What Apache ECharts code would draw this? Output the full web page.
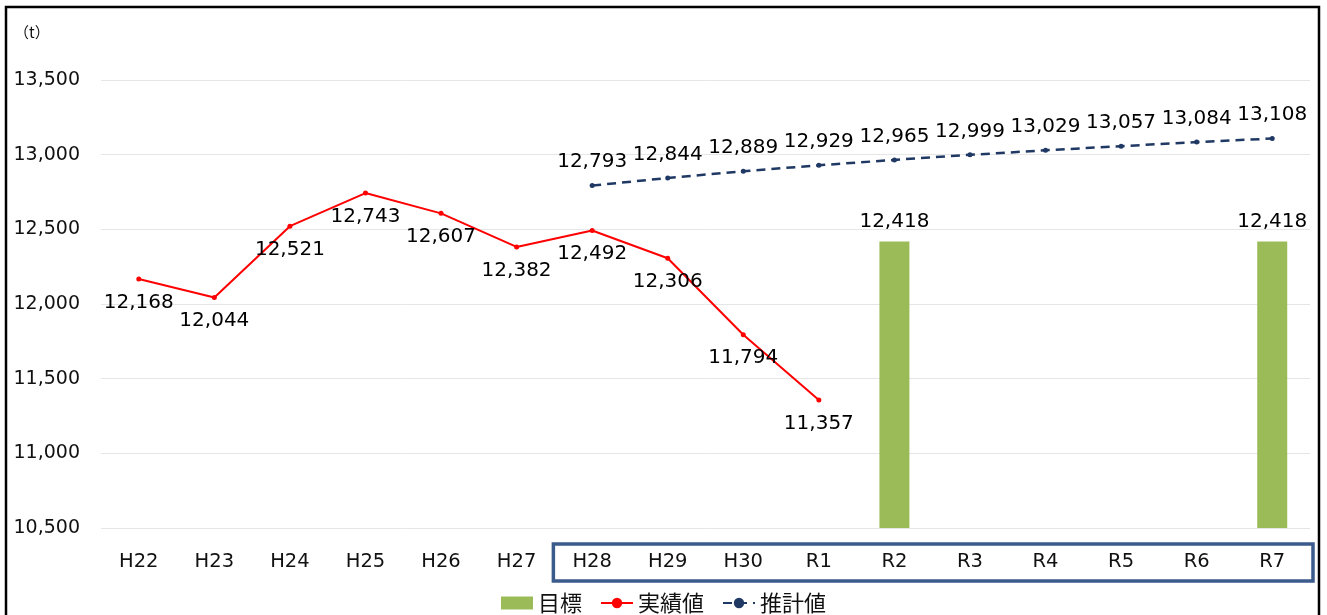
<!DOCTYPE html>
<html><head><meta charset="utf-8">
<script src="https://cdn.jsdelivr.net/npm/echarts@6/dist/echarts.min.js"></script>
<style>html,body{margin:0;padding:0;background:#fff}#c{width:1327px;height:615px}</style>
</head><body><div id="c"></div>
<script>
const categories = ['H22','H23','H24','H25','H26','H27','H28','H29','H30','R1','R2','R3','R4','R5','R6','R7'];
const targetValues = [null,null,null,null,null,null,null,null,null,null,12418,null,null,null,null,12418];
const actualValues = [12168,12044,12521,12743,12607,12382,12492,12306,11794,11357,null,null,null,null,null,null];
const estimateValues = [null,null,null,null,null,null,12793,12844,12889,12929,12965,12999,13029,13057,13084,13108];
const yTicks = {min:10500, max:13500, interval:500};
const seriesNames = ['目標','実績値','推計値'];
const unitLabel = '（t）';

const CJK = '"Noto Sans CJK JP","Noto Sans",sans-serif';
const NUM = '"DejaVu Sans","Noto Sans",sans-serif';
const fmt = v => Number(v).toLocaleString('en-US');
const chart = echarts.init(document.getElementById('c'));
chart.setOption({
  animation:false,
  backgroundColor:'#fff',
  textStyle:{fontFamily:NUM},
  grid:{left:101,right:17,top:80,bottom:87},
  legend:{
    bottom:-4, left:'center', itemGap:18, itemWidth:32, itemHeight:13,
    textStyle:{fontSize:22,color:'#111',fontFamily:CJK},
    data:[{name:seriesNames[0],icon:'rect'},seriesNames[1],seriesNames[2]]
  },
  xAxis:{
    type:'category', data:categories,
    axisLine:{show:false}, axisTick:{show:false},
    axisLabel:{fontSize:19.5,color:'#111',margin:24,fontFamily:NUM}
  },
  yAxis:{
    type:'value', min:yTicks.min, max:yTicks.max, interval:yTicks.interval,
    axisLine:{show:false}, axisTick:{show:false},
    splitLine:{lineStyle:{color:'#e6e6e6',width:1}},
    axisLabel:{fontSize:19,color:'#111',margin:21,formatter:v=>fmt(v),fontFamily:NUM}
  },
  series:[
    {name:seriesNames[0],type:'bar',data:targetValues,barWidth:30,barGap:'-100%',
     itemStyle:{color:'#9bbb59'},
     label:{show:true,position:'top',distance:10,fontSize:20,color:'#000',fontFamily:NUM,formatter:p=>fmt(p.value)}},
    {name:seriesNames[1],type:'line',data:actualValues,
     lineStyle:{color:'#ff0000',width:2},itemStyle:{color:'#ff0000'},
     symbol:'circle',symbolSize:5,
     label:{show:true,position:'bottom',distance:11,fontSize:20,color:'#000',fontFamily:NUM,formatter:p=>fmt(p.value)}},
    {name:seriesNames[2],type:'line',data:estimateValues,
     lineStyle:{color:'#1f3864',width:2.5,type:[9,6]},itemStyle:{color:'#1f3864'},
     symbol:'circle',symbolSize:5,
     label:{show:true,position:'top',distance:11,fontSize:20,color:'#000',fontFamily:NUM,formatter:p=>fmt(p.value)}}
  ]
});
// decorations: frame, unit label, and the box around H28..R7 computed from the axis
const p1 = chart.convertToPixel({xAxisIndex:0,yAxisIndex:0},[categories.indexOf('H28'),yTicks.min]);
const p2 = chart.convertToPixel({xAxisIndex:0,yAxisIndex:0},[categories.indexOf('R7'),yTicks.min]);
const band = (p2[0]-p1[0])/(categories.indexOf('R7')-categories.indexOf('H28'));
chart.setOption({graphic:[
  {type:'text',left:14,top:25,style:{text:unitLabel,fontSize:15,fill:'#111',fontFamily:CJK}},
  {type:'rect',shape:{x:p1[0]-band/2-1,y:p1[1]+16,width:(p2[0]-p1[0])+band+4,height:37},
   style:{fill:'none',stroke:'#3b5b8c',lineWidth:3.5}},
  {type:'polyline',shape:{points:[[6,615],[6,7],[1319,7],[1319,615]]},style:{stroke:'#000',lineWidth:2.5,fill:'none'}}
]});
</script></body></html>
